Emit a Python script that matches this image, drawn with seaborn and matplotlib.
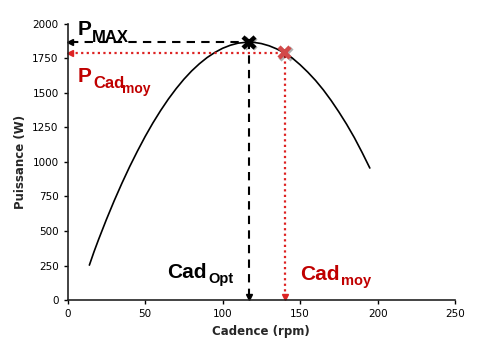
import matplotlib.pyplot as plt
import matplotlib.patheffects as pe
import seaborn as sns
import pandas as pd

# values
cadence = [14, 17, 20, 25, 30, 35, 40, 45, 50, 55, 60, 65, 70, 75, 80, 85, 90, 95, 100,
           105, 110, 115, 117, 120, 125, 130, 135, 140, 145, 150, 155, 160, 165, 170,
           175, 180, 185, 190, 195]
puissance = [253, 350, 440, 583, 718, 845, 965, 1077, 1183, 1281, 1371, 1454, 1529, 1597,
             1657, 1709, 1754, 1791, 1821, 1843, 1858, 1864, 1865, 1864, 1855, 1839, 1816,
             1787, 1750, 1702, 1648, 1588, 1520, 1444, 1361, 1272, 1175, 1068, 955]

cad_opt, p_max = 117, 1865
cad_moy, p_cad_moy = 140, 1790

x_ticks = [0, 50, 100, 150, 200, 250]
y_ticks = [0, 250, 500, 750, 1000, 1250, 1500, 1750, 2000]

RED = '#c00000'
RED_LINE = '#dd2222'
RED_X = '#d24a4a'

sns.set_style('ticks')
plt.rcParams['font.family'] = ['DejaVu Sans']

fig = plt.figure(figsize=(4.8, 3.51), dpi=100)
ax = fig.add_axes([0.141, 0.145, 0.807, 0.788])

df = pd.DataFrame({'Cadence': cadence, 'Puissance': puissance})
sns.lineplot(data=df, x='Cadence', y='Puissance', color='black', lw=1.2, ax=ax)

# Pmax guides (black dashed)
dash = (0, (4, 3))
ax.plot([1.5, cad_opt], [p_max, p_max], ls=dash, color='black', lw=1.5, clip_on=False)
ax.plot([cad_opt, cad_opt], [22, p_max], ls=dash, color='black', lw=1.5, clip_on=False)
ax.plot(1.5, p_max, marker='<', ms=4.5, color='black', clip_on=False)
ax.plot(cad_opt, 22, marker='v', ms=4.5, color='black', clip_on=False)

# Cad moy guides (red dotted)
dot = (0, (1, 1.5))
ax.plot([1.5, cad_moy], [p_cad_moy, p_cad_moy], ls=dot, color=RED_LINE, lw=1.6, clip_on=False)
ax.plot([cad_moy, cad_moy], [22, p_cad_moy], ls=dot, color=RED_LINE, lw=1.6, clip_on=False)
ax.plot(1.5, p_cad_moy, marker='<', ms=4.5, color=RED_LINE, clip_on=False)
ax.plot(cad_moy, 22, marker='v', ms=4.5, color=RED_LINE, clip_on=False)

shadow = [pe.SimpleLineShadow(offset=(1, -1), alpha=0.3), pe.Normal()]
ax.plot(cad_opt, p_max, marker='x', ms=8, mew=3.2, color='black', path_effects=shadow, zorder=5)
ax.plot(cad_moy, p_cad_moy, marker='x', ms=8, mew=3.2, color=RED_X, path_effects=shadow, zorder=5)

ax.set_xlim(0, 250)
ax.set_ylim(0, 2000)
ax.set_xticks(x_ticks)
ax.set_yticks(y_ticks)
ax.tick_params(labelsize=7.5, length=3, width=1, colors='black')
ax.set_xlabel('Cadence (rpm)', fontsize=8.5, fontweight='bold', labelpad=4)
ax.set_ylabel('Puissance (W)', fontsize=8.5, fontweight='bold', labelpad=4)
for s in ['left', 'bottom']:
    ax.spines[s].set_linewidth(1.2)
    ax.spines[s].set_color('#222222')
sns.despine(ax=ax)


def label(px, py, txt, size, color):
    fig.text(px / 480, 1 - py / 351, txt, fontsize=size, color=color,
             fontweight='bold', family=['Liberation Sans'], va='baseline')


label(78, 35, 'P', 15, 'black')
label(92, 42, 'MAX', 12, 'black')
label(78, 82, 'P', 15, RED)
label(93, 88, 'Cad', 12, RED)
label(122, 93, 'moy', 10, RED)
label(167, 278, 'Cad', 15, 'black')
label(208, 283, 'Opt', 10.5, 'black')
label(300, 280, 'Cad', 15, RED)
label(341, 285, 'moy', 10.5, RED)

fig.savefig('out.png', dpi=100)
